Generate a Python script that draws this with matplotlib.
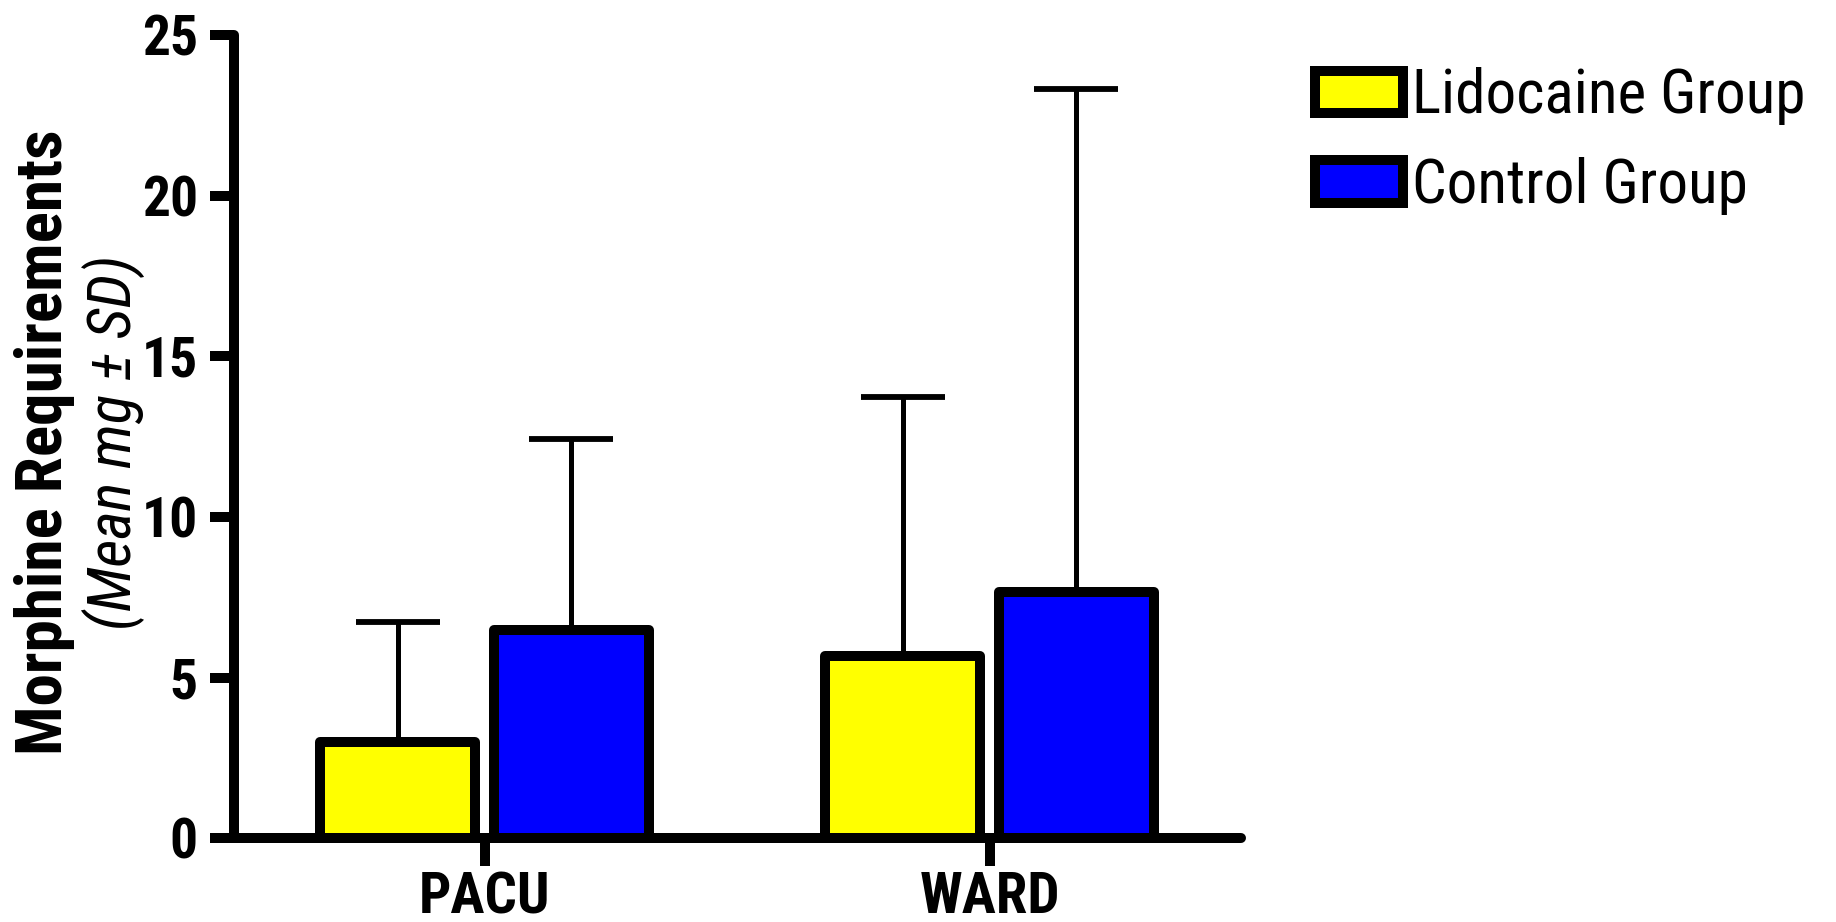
# grouped bar chart: morphine use by group, PACU vs ward
import matplotlib
matplotlib.use('Agg')
import numpy as np
import matplotlib.pyplot as plt

plt.rcParams['font.family'] = ['Roboto Condensed', 'DejaVu Sans']

settings = ['PACU', 'WARD']
groups = ['Lidocaine Group', 'Control Group']
colors = ['#ffff00', '#0000ff']
means = {
    'Lidocaine Group': [3.0, 5.68],
    'Control Group': [6.48, 7.68],
}
sds = {
    'Lidocaine Group': [3.72, 8.06],
    'Control Group': [5.95, 15.65],
}
yticks = [0, 5, 10, 15, 20, 25]

fig = plt.figure(figsize=(18.36, 9.22), dpi=100)
ax = fig.add_axes([0.1275, 0.0907, 0.5485, 0.8714])

ind = np.arange(len(settings))
width = 0.307
offsets = [-0.172, 0.172]

for g, col, off in zip(groups, colors, offsets):
    ax.bar(ind + off, means[g], width, color=col, edgecolor='black',
           linewidth=7.2, joinstyle='round', label=g, zorder=3)
    # upper SD whisker only; the lower half sits behind the bar
    ax.errorbar(ind + off, means[g], yerr=[np.zeros(len(settings)), sds[g]],
                fmt='none', ecolor='black', elinewidth=3.6, capsize=30,
                capthick=4.2, zorder=2)

ax.set_xlim(-0.496, 1.498)
ax.set_ylim(0, 25)
ax.set_yticks(yticks)
ax.set_yticklabels([str(v) for v in yticks], fontsize=40, fontweight='bold')
ax.set_xticks(ind)
ax.set_xticklabels(settings, fontsize=41, fontweight='bold')

for side in ['top', 'right']:
    ax.spines[side].set_visible(False)
for side in ['left', 'bottom']:
    ax.spines[side].set_linewidth(7.2)
    ax.spines[side].set_capstyle('round')
ax.tick_params(axis='y', length=17, width=7.2, pad=9)
ax.tick_params(axis='x', length=20, width=7.2, pad=3)

fig.text(0.024, 0.52, 'Morphine Requirements', rotation=90, ha='center', va='center',
         fontsize=47, fontweight='bold')
fig.text(0.062, 0.52, '(Mean mg \u00b1 SD)', rotation=90, ha='center', va='center',
         fontsize=44, fontstyle='italic')

fig.legend(loc='upper left', bbox_to_anchor=(0.716, 0.927), frameon=False,
           fontsize=44, handlelength=1.45, handleheight=0.7, handletextpad=0.15,
           labelspacing=0.52, borderpad=0, borderaxespad=0)

plt.savefig('out.png', dpi=100)
